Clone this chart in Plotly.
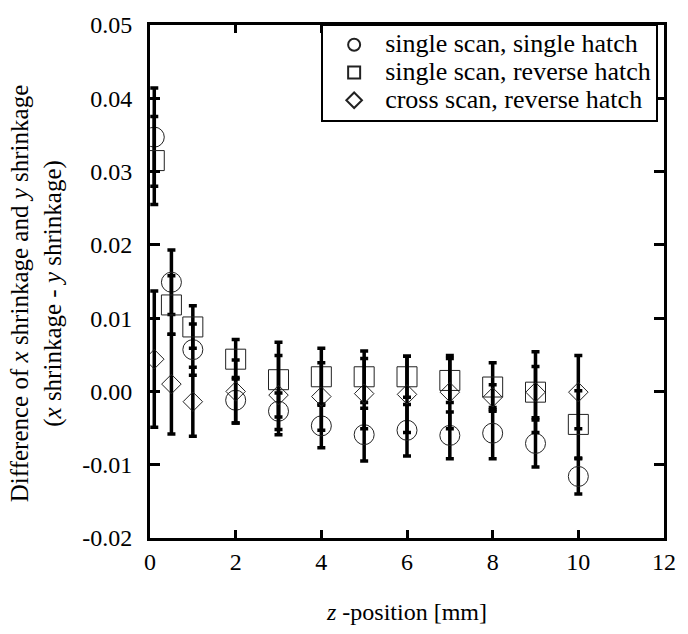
import plotly.graph_objects as go

# ---- data ----
z_pos = [0.1, 0.5, 1, 2, 3, 4, 5, 6, 7, 8, 9, 10]

single_single_y = [0.0347, 0.0149, 0.0057, -0.0012, -0.0027, -0.0047, -0.0059, -0.0053, -0.0060, -0.0057, -0.0071, -0.0116]
single_single_err = [0.0067, 0.0044, 0.0035, 0.0031, 0.0025, 0.0030, 0.0036, 0.0035, 0.0032, 0.0035, 0.0032, 0.0024]

single_reverse_y = [0.0315, 0.0118, 0.0088, 0.0044, 0.0016, 0.0020, 0.0020, 0.0020, 0.0015, 0.0006, -0.0001, -0.0045]
single_reverse_err = [0.0060, 0.0040, 0.0029, 0.0027, 0.0051, 0.0039, 0.0035, 0.0028, 0.0030, 0.0033, 0.0055, 0.0046]

cross_reverse_y = [0.0044, 0.0010, -0.0014, 0.0000, -0.0005, -0.0007, -0.0003, -0.0004, -0.0001, -0.0008, -0.0001, -0.0001]
cross_reverse_err = [0.0093, 0.0068, 0.0047, 0.0043, 0.0054, 0.0046, 0.0048, 0.0052, 0.0050, 0.0017, 0.0035, 0.0050]

series_names = ["single scan, single hatch", "single scan, reverse hatch", "cross scan, reverse hatch"]

x_tick_vals = [0, 2, 4, 6, 8, 10, 12]
x_tick_text = ["0", "2", "4", "6", "8", "10", "12"]
y_tick_vals = [-0.02, -0.01, 0.0, 0.01, 0.02, 0.03, 0.04, 0.05]
y_tick_text = ["-0.02", "-0.01", "0.00", "0.01", "0.02", "0.03", "0.04", "0.05"]

y_title = "Difference of <i>x</i> shrinkage and <i>y</i> shrinkage<br>(<i>x</i> shrinkage - <i>y</i> shrinkage)"
x_title = "<i>z</i> -position [mm]"

FONT = "Liberation Serif"

fig = go.Figure()

series = [
    (single_single_y, single_single_err, "circle-open", 20, series_names[0]),
    (single_reverse_y, single_reverse_err, "square-open", 20, series_names[1]),
    (cross_reverse_y, cross_reverse_err, "diamond-open", 15, series_names[2]),
]

for yv, ev, sym, sz, name in series:
    fig.add_trace(go.Scatter(
        x=z_pos, y=yv, mode="markers", name="<span style='font-size:26px'>" + name + "</span>",
        marker=dict(symbol=sym, size=sz, color="#222222", line=dict(width=1, color="#222222")),
        error_y=dict(type="data", array=ev, visible=True, color="black", thickness=3.5, width=4),
    ))

fig.update_layout(
    width=688, height=634,
    margin=dict(l=150, r=12, t=19, b=94),
    paper_bgcolor="white", plot_bgcolor="white",
    font=dict(family=FONT, size=24, color="black"),
    showlegend=True,
    legend=dict(
        x=0.9886, xanchor="right", y=1.002, yanchor="top",
        bgcolor="white", bordercolor="black", borderwidth=2,
        font=dict(family=FONT, size=19, color="black"),
        itemsizing="constant", tracegroupgap=0, itemwidth=52,
    ),
    xaxis=dict(
        range=[0, 12], tickvals=x_tick_vals, ticktext=x_tick_text,
        showgrid=False, zeroline=False,
        showline=True, linecolor="black", linewidth=3, mirror="ticks",
        ticks="inside", ticklen=8, tickwidth=2.5, tickcolor="black",
        tickfont=dict(family=FONT, size=24),
        title=dict(text=x_title, font=dict(family=FONT, size=24), standoff=30),
    ),
    yaxis=dict(
        range=[-0.02, 0.05], tickvals=y_tick_vals, ticktext=y_tick_text,
        showgrid=False, zeroline=False,
        showline=True, linecolor="black", linewidth=3, mirror="ticks",
        ticks="inside", ticklen=10, tickwidth=3, tickcolor="black",
        tickfont=dict(family=FONT, size=24), ticklabelstandoff=10,
    ),
    annotations=[dict(
        text=y_title, xref="paper", yref="paper", x=-0.2205, y=0.4765,
        xanchor="center", yanchor="middle", textangle=-90, showarrow=False,
        font=dict(family=FONT, size=25, color="black"),
    )],
)

fig.write_html("out.html")
